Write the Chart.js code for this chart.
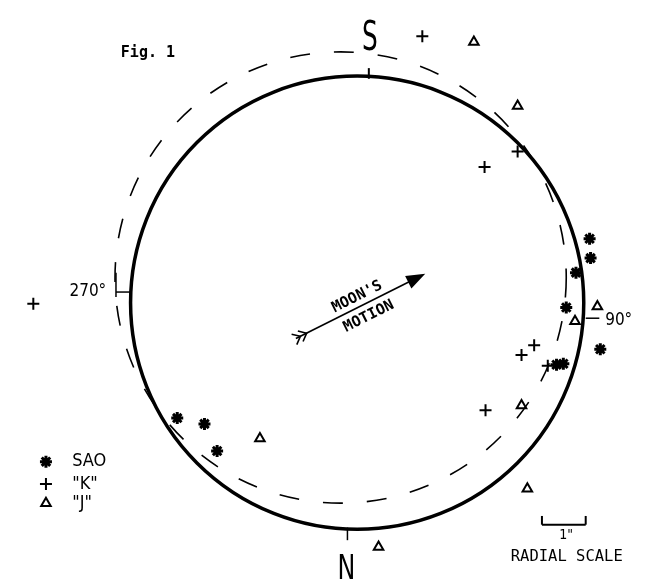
<!DOCTYPE html>
<html><head><meta charset="utf-8">
<style>html,body{margin:0;padding:0;background:#fff}#wrap{width:655px;height:587px;position:relative}</style>
<script src="https://cdn.jsdelivr.net/npm/chart.js"></script>
</head><body><div id="wrap"><canvas id="c"></canvas></div>
<script>
// Plot frame: centred on the mean limb, x to the right, y upward (digitised units)
const X_RANGE = [-358, 297];
const Y_RANGE = [-284, 303];

// SAO stars (asterisks)
const SAO_X = [225, 215, 205, 212, 239, 240, 250, -185, -157, -144];
const SAO_Y = [31, -5, -64, -63, 66, 46, -48, -119, -125, -153];
// "K" stars (plus)
const K_X = [67, 165, 131, 169, 182, 196, 132, -333];
const K_Y = [275, 156, 140, -54, -44, -65, -111, -1];
// "J" stars (triangles)
const J_X = [120, 165, 247, 224, 169, 175, 22, -100];
const J_Y = [269, 203, -4, -19, -106, -192, -252, -140];

// limb circles: [centre x, centre y, radius]
const MEAN_LIMB = [0, 0, 233];
const PROFILE_LIMB = [-17, 26, 232];

// position-angle marks
const PA_LABELS = ["S", "N", "270°", "90°"];
// moon's motion arrow [tail, head]
const MOTION_TAIL = [-63, -37];
const MOTION_HEAD = [70, 30];
const MOTION_TEXT = ["MOON'S", "MOTION"];
const LEGEND_LABELS = ["SAO", "\"K\"", "\"J\""];
const LEGEND_STYLES = ["star", "cross", "triangle"];
const SCALE_LABEL = ["1\"", "RADIAL SCALE"];
const FIG_LABEL = "Fig. 1";

const pts = (xs, ys) => xs.map((x, i) => ({x, y: ys[i]}));

const overlay = {
  id: 'overlay',
  beforeDatasetsDraw(chart) {
    const ctx = chart.ctx, sx = chart.scales.x, sy = chart.scales.y;
    const X = v => sx.getPixelForValue(v), Y = v => sy.getPixelForValue(v);
    const R = r => X(r) - X(0);
    ctx.save();
    ctx.strokeStyle = '#000';
    // mean limb
    ctx.lineWidth = 3.5;
    ctx.beginPath(); ctx.arc(X(MEAN_LIMB[0]), Y(MEAN_LIMB[1]), R(MEAN_LIMB[2]), 0, Math.PI * 2); ctx.stroke();
    // profile (dashed)
    ctx.lineWidth = 1.6; ctx.setLineDash([20, 24]);
    ctx.beginPath(); ctx.arc(X(PROFILE_LIMB[0]), Y(PROFILE_LIMB[1]), R(PROFILE_LIMB[2]), 0, Math.PI * 2); ctx.stroke();
    ctx.setLineDash([]);
    // PA ticks
    const seg = (a, b, c, d, w) => { ctx.lineWidth = w; ctx.beginPath(); ctx.moveTo(X(a), Y(b)); ctx.lineTo(X(c), Y(d)); ctx.stroke(); };
    seg(12, 231, 12, 242, 2);
    seg(-10, -232, -10, -245, 1.5);
    seg(-248, 31, -248, 6, 1.5);
    seg(-248, 11, -233, 11, 1.5);
    seg(235, -16, 249, -16, 1.5);
    // radial scale bracket
    seg(190, -229, 235, -229, 2);
    seg(190, -229, 190, -220, 2);
    seg(235, -229, 235, -220, 2);
    // motion arrow
    const tx = X(MOTION_TAIL[0]), ty = Y(MOTION_TAIL[1]), hx = X(MOTION_HEAD[0]), hy = Y(MOTION_HEAD[1]);
    const ang = Math.atan2(hy - ty, hx - tx);
    const ux = Math.cos(ang), uy = Math.sin(ang);
    ctx.lineWidth = 1.6;
    ctx.beginPath(); ctx.moveTo(tx, ty); ctx.lineTo(hx - ux * 14, hy - uy * 14); ctx.stroke();
    ctx.fillStyle = '#000';
    ctx.beginPath();
    ctx.moveTo(hx, hy);
    ctx.lineTo(hx - ux * 19 - uy * 7, hy - uy * 19 + ux * 7);
    ctx.lineTo(hx - ux * 19 + uy * 7, hy - uy * 19 - ux * 7);
    ctx.closePath(); ctx.fill();
    // fletching
    [5, 12].forEach(d => {
      const bx = tx + ux * d, by = ty + uy * d;
      const a1 = ang + Math.PI - 0.7, a2 = ang + Math.PI + 0.7;
      ctx.beginPath();
      ctx.moveTo(bx + Math.cos(a1) * 9, by + Math.sin(a1) * 9);
      ctx.lineTo(bx, by);
      ctx.lineTo(bx + Math.cos(a2) * 9, by + Math.sin(a2) * 9);
      ctx.stroke();
    });
    ctx.restore();
  },
  afterDatasetsDraw(chart) {
    const ctx = chart.ctx, sx = chart.scales.x, sy = chart.scales.y;
    const X = v => sx.getPixelForValue(v), Y = v => sy.getPixelForValue(v);
    ctx.save();
    ctx.fillStyle = '#000'; ctx.strokeStyle = '#000';
    const txt = (s, x, y, font, align, base) => { ctx.font = font; ctx.textAlign = align; ctx.textBaseline = base; ctx.fillText(s, X(x), Y(y)); };
    const narrow = (s, x, y, font, sxf) => {
      ctx.save(); ctx.translate(X(x), Y(y)); ctx.scale(sxf, 1);
      ctx.font = font; ctx.textAlign = 'center'; ctx.textBaseline = 'alphabetic';
      ctx.fillText(s, 0, 0); ctx.restore();
    };
    narrow(PA_LABELS[0], 13, 261, '40px "DejaVu Sans"', 0.62);
    narrow(PA_LABELS[1], -11, -285, '34px "DejaVu Sans"', 0.7);
    txt(PA_LABELS[2], -258, 11, '17px "DejaVu Sans Condensed"', 'right', 'middle');
    txt(PA_LABELS[3], 255, -18, '17px "DejaVu Sans Condensed"', 'left', 'middle');
    txt(FIG_LABEL, -243, 253, 'bold 15px "DejaVu Sans Mono"', 'left', 'alphabetic');
    txt(SCALE_LABEL[0], 215, -240, '14px "DejaVu Sans Condensed"', 'center', 'middle');
    txt(SCALE_LABEL[1], 215.5, -262, '15.5px "DejaVu Sans Mono"', 'center', 'middle');
    // legend
    const ly = [-164, -187, -207];
    LEGEND_LABELS.forEach((s, i) => {
      txt(s, -293, ly[i], '18px "DejaVu Sans Condensed"', 'left', 'middle');
      ctx.lineWidth = i === 0 ? 3 : 2;
      ctx.fillStyle = i === 2 ? 'rgba(0,0,0,0)' : '#000';
      Chart.helpers.drawPoint(ctx, {pointStyle: LEGEND_STYLES[i], radius: i === 2 ? 5.5 : 6, borderWidth: ctx.lineWidth, rotation: 0}, X(-320), Y(ly[i]));
      ctx.fillStyle = '#000';
    });
    // motion text
    const tx = X(MOTION_TAIL[0]), ty = Y(MOTION_TAIL[1]), hx = X(MOTION_HEAD[0]), hy = Y(MOTION_HEAD[1]);
    const ang = Math.atan2(hy - ty, hx - tx);
    [[MOTION_TEXT[0], 0, 6], [MOTION_TEXT[1], 12, -14]].forEach(([s, x, y]) => {
      ctx.save();
      ctx.translate(X(x), Y(y)); ctx.rotate(ang);
      ctx.font = 'bold 15px "DejaVu Sans Mono"'; ctx.textAlign = 'center'; ctx.textBaseline = 'middle';
      ctx.fillText(s, 0, 0);
      ctx.restore();
    });
    ctx.restore();
  }
};

new Chart(document.getElementById('c'), {
  type: 'scatter',
  data: {
    datasets: [
      {label: 'SAO', data: pts(SAO_X, SAO_Y), pointStyle: 'star', pointRadius: 6, pointBorderWidth: 3, borderColor: '#000', backgroundColor: '#000', clip: false},
      {label: '"K"', data: pts(K_X, K_Y), pointStyle: 'cross', pointRadius: 6, pointBorderWidth: 2, borderColor: '#000', backgroundColor: '#000', clip: false},
      {label: '"J"', data: pts(J_X, J_Y), pointStyle: 'triangle', pointRadius: 5.5, pointBorderWidth: 2, borderColor: '#000', backgroundColor: 'rgba(0,0,0,0)', clip: false}
    ]
  },
  options: {
    responsive: true, maintainAspectRatio: false, animation: false,
    layout: {padding: 0},
    plugins: {legend: {display: false}, tooltip: {enabled: false}},
    scales: {
      x: {type: 'linear', min: X_RANGE[0], max: X_RANGE[1], display: false},
      y: {type: 'linear', min: Y_RANGE[0], max: Y_RANGE[1], display: false}
    }
  },
  plugins: [overlay]
});
</script></body></html>
